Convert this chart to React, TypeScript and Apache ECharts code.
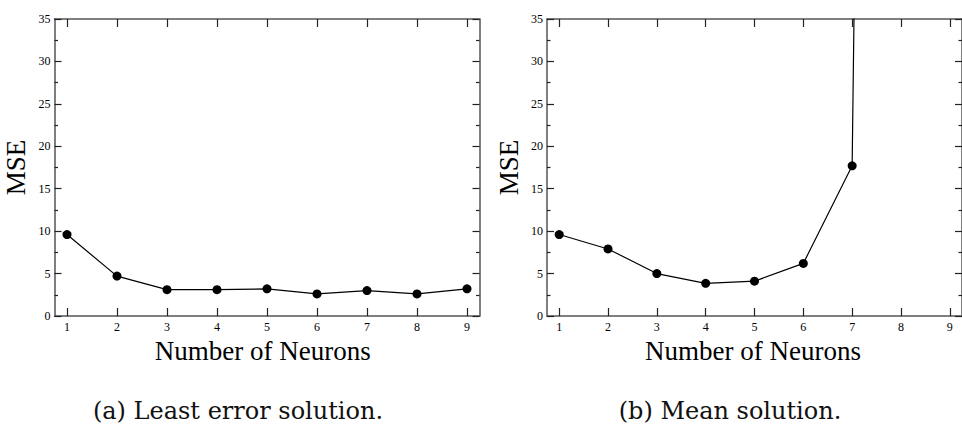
import React, { useEffect, useRef } from "react";
import * as echarts from "echarts";

const neurons = [1, 2, 3, 4, 5, 6, 7, 8, 9];
const mseLeastError = [9.6, 4.7, 3.1, 3.1, 3.2, 2.6, 3.0, 2.6, 3.2];
const neuronsMean = [1, 2, 3, 4, 5, 6, 7, 8];
const mseMean = [9.6, 7.9, 5.0, 3.85, 4.1, 6.2, 17.7, 480];
const xTickValues = [1, 2, 3, 4, 5, 6, 7, 8, 9];
const xAxisTitle = "Number of Neurons";
const yAxisTitle = "MSE";
const captions = ["(a) Least error solution.", "(b) Mean solution."];

const SERIF = "'Liberation Serif', 'Times New Roman', serif";
const CAPTION_FONT = "'DejaVu Serif', serif";

export default function App() {
  const ref = useRef<HTMLDivElement>(null);

  useEffect(() => {
    if (!ref.current) return;
    const chart = echarts.init(ref.current, null, { renderer: "svg" });

    const grids = [
      { left: 54.5, top: 19, width: 425, height: 297 },
      { left: 547, top: 19, width: 425, height: 297 },
    ];

    const frameLine = { show: true, onZero: false, lineStyle: { color: "#555", width: 1.5 } };
    const tickStyle = { color: "#222", width: 1.2 };

    const xAxes: any[] = [];
    const yAxes: any[] = [];
    [0, 1].forEach((g) => {
      ["bottom", "top"].forEach((pos) => {
        xAxes.push({
          type: "value",
          gridIndex: g,
          position: pos,
          min: 0.75,
          max: 9.25,
          axisLine: frameLine,
          axisTick: { show: true, inside: true, length: 8, customValues: xTickValues, lineStyle: tickStyle },
          axisLabel: {
            show: pos === "bottom",
            customValues: xTickValues,
            margin: 5,
            fontFamily: SERIF,
            fontSize: 12,
            color: "#000",
          },
          splitLine: { show: false },
        });
      });
      ["left", "right"].forEach((pos) => {
        yAxes.push({
          type: "value",
          gridIndex: g,
          position: pos,
          min: 0,
          max: 35,
          interval: 5,
          name: pos === "left" ? yAxisTitle : "",
          nameLocation: "middle",
          nameGap: 25,
          nameTextStyle: { fontFamily: SERIF, fontSize: 27, color: "#000" },
          axisLine: frameLine,
          axisTick: { show: true, inside: true, length: 7, lineStyle: tickStyle },
          minorTick: { show: true, splitNumber: 2, length: 3.5, lineStyle: tickStyle },
          axisLabel: {
            show: pos === "left",
            margin: 4,
            fontFamily: SERIF,
            fontSize: 12,
            color: "#000",
          },
          splitLine: { show: false },
        });
      });
    });

    const lineSeries = (xs: number[], ys: number[], g: number) => ({
      type: "line",
      xAxisIndex: g * 2,
      yAxisIndex: g * 2,
      data: xs.map((x, i) => [x, ys[i]]),
      symbol: "circle",
      symbolSize: 9,
      clip: true,
      itemStyle: { color: "#000" },
      lineStyle: { color: "#000", width: 1.2 },
    });

    chart.setOption({
      animation: false,
      backgroundColor: "#fff",
      grid: grids,
      xAxis: xAxes,
      yAxis: yAxes,
      series: [lineSeries(neurons, mseLeastError, 0), lineSeries(neuronsMean, mseMean, 1)],
      graphic: [
        {
          type: "text",
          x: 262.7,
          y: 351,
          style: { text: xAxisTitle, font: `27px ${SERIF}`, fill: "#000", align: "center", verticalAlign: "middle" },
        },
        {
          type: "text",
          x: 753,
          y: 351,
          style: { text: xAxisTitle, font: `27px ${SERIF}`, fill: "#000", align: "center", verticalAlign: "middle" },
        },
        {
          type: "text",
          x: 238,
          y: 411,
          style: { text: captions[0], font: `24px ${CAPTION_FONT}`, fill: "#111", align: "center", verticalAlign: "middle" },
        },
        {
          type: "text",
          x: 730,
          y: 411,
          style: { text: captions[1], font: `24px ${CAPTION_FONT}`, fill: "#111", align: "center", verticalAlign: "middle" },
        },
      ],
    });

    return () => chart.dispose();
  }, []);

  return (
    <div
      ref={ref}
      style={{ position: "absolute", left: 0, top: 0, width: 962, height: 424, overflow: "hidden" }}
    />
  );
}
